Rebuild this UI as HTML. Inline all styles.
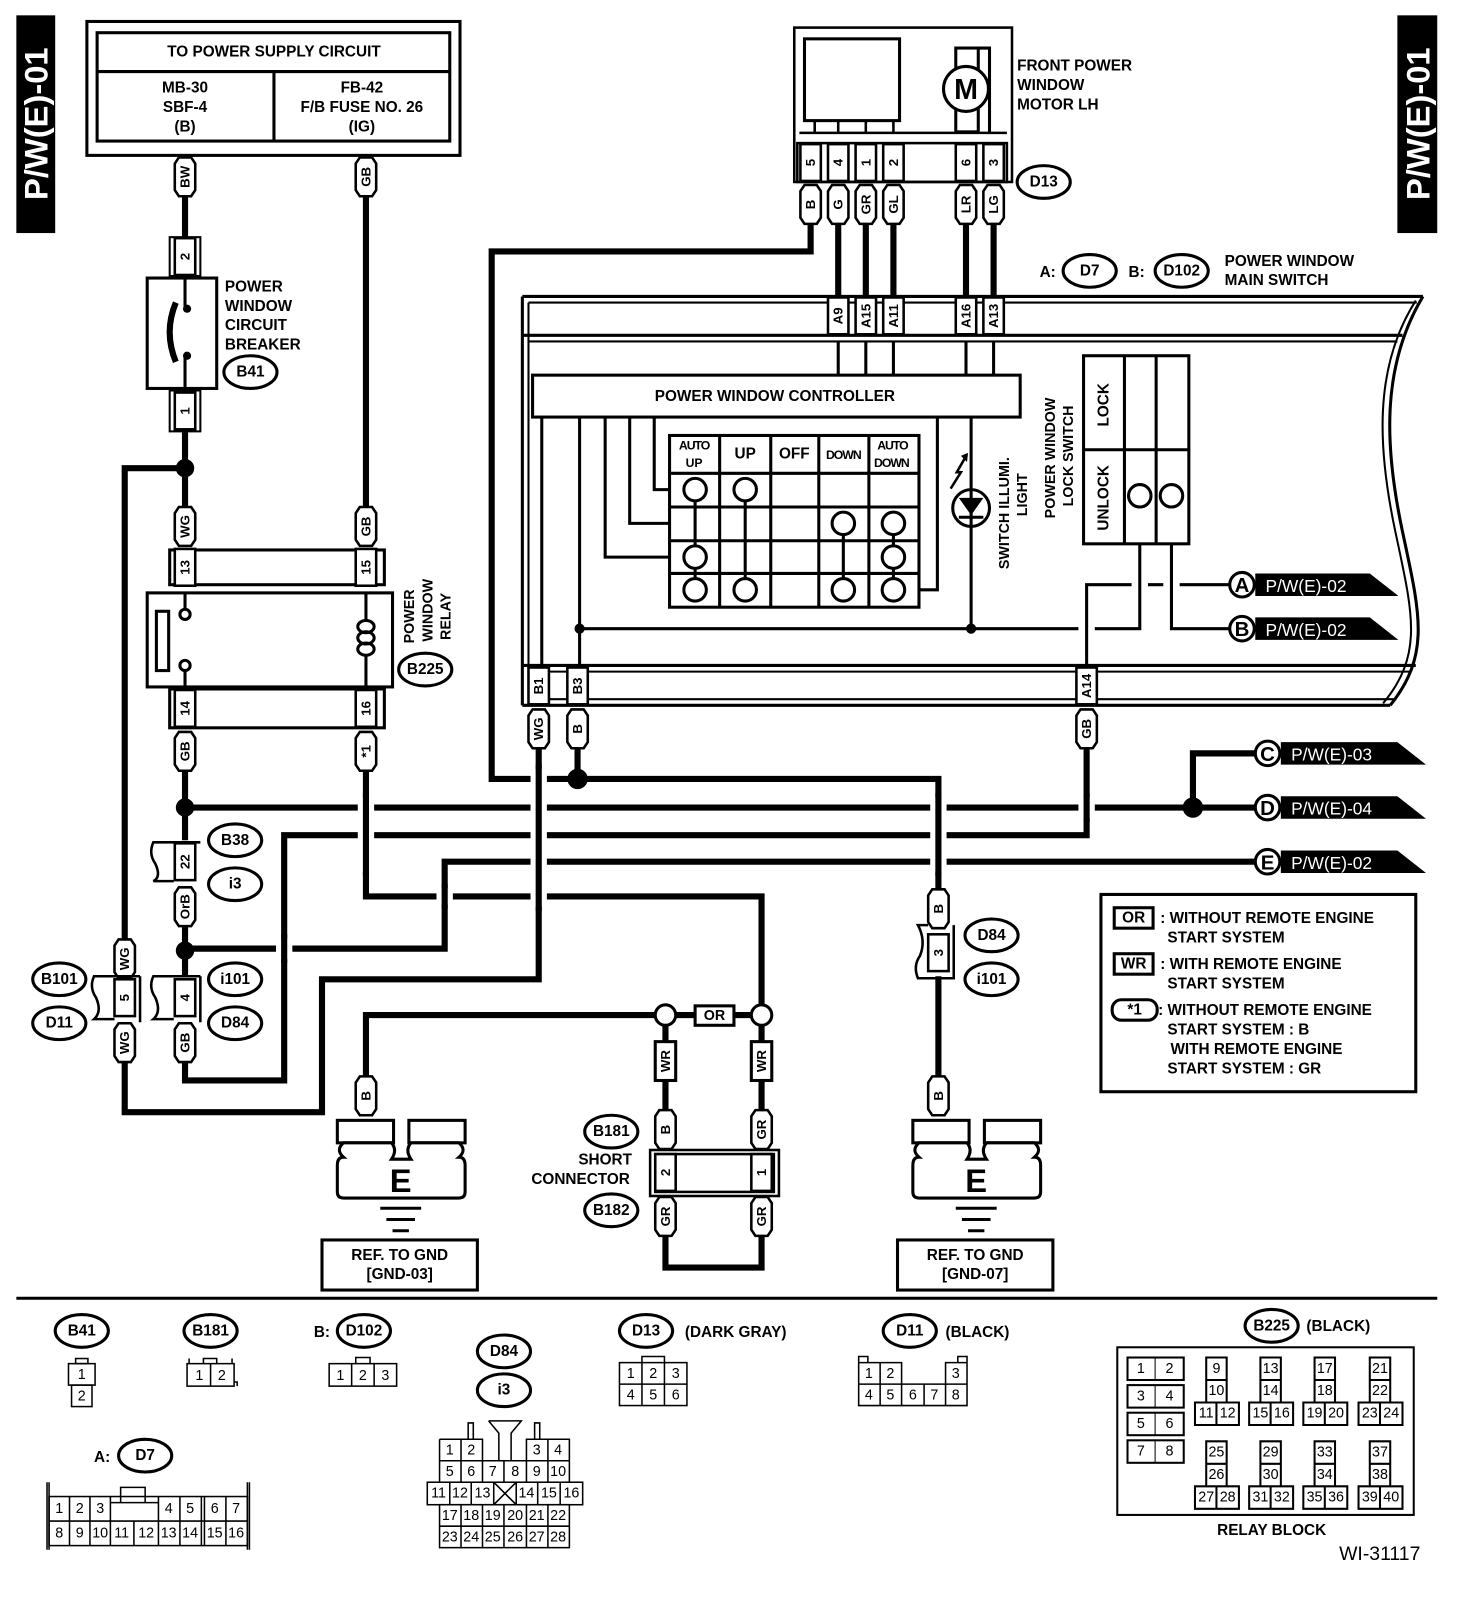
<!DOCTYPE html>
<html><head><meta charset="utf-8"><style>
html,body{margin:0;padding:0;background:#fff}
svg{display:block}
text{font-family:"Liberation Sans",sans-serif;font-weight:bold;fill:#000}
.c{text-anchor:middle;dominant-baseline:central}
.s15{font-size:15px}.s14{font-size:14px}.s13{font-size:13px}.s12{font-size:12px}
.n{font-weight:normal}
</style></head><body>
<svg width="1472" height="1610" viewBox="0 0 1440 1575" xmlns="http://www.w3.org/2000/svg">
<defs>
<path id="pill" d="M-10,-13 L-6,-19 H6 L10,-13 V13 L6,19 H-6 L-10,13Z" fill="#fff" stroke="#000" stroke-width="2.5"/>
<rect id="pin" x="-10" y="-18" width="20" height="36" fill="#fff" stroke="#000" stroke-width="2.5"/>
<ellipse id="el" rx="26" ry="16" fill="#fff" stroke="#000" stroke-width="3"/>
</defs>
<rect width="1440" height="1575" fill="#fff"/>

<!-- side tabs -->
<rect x="16" y="15" width="38" height="213" fill="#000"/>
<text class="c" transform="translate(35,121) rotate(-90)" style="font-size:32px;fill:#fff">P/W(E)-01</text>
<rect x="1367" y="15" width="39" height="213" fill="#000"/>
<text class="c" transform="translate(1387,121) rotate(-90)" style="font-size:32px;fill:#fff">P/W(E)-01</text>

<!-- power supply box -->
<rect x="85" y="21" width="365" height="131" fill="none" stroke="#000" stroke-width="3"/>
<rect x="95" y="32" width="345" height="106" fill="none" stroke="#000" stroke-width="3"/>
<line x1="95" y1="70" x2="440" y2="70" stroke="#000" stroke-width="3"/>
<line x1="268" y1="70" x2="268" y2="138" stroke="#000" stroke-width="3"/>
<text class="c s15" x="268" y="51">TO POWER SUPPLY CIRCUIT</text>
<text class="c s15" x="181" y="86">MB-30</text><text class="c s15" x="181" y="105">SBF-4</text><text class="c s15" x="181" y="124">(B)</text>
<text class="c s15" x="354" y="86">FB-42</text><text class="c s15" x="354" y="105">F/B FUSE NO. 26</text><text class="c s15" x="354" y="124">(IG)</text>

<!-- thick wires -->
<g fill="none" stroke="#000" stroke-width="6">
<path d="M181,192 V232 M181,422 V496 M181,458 H122 V919 M122,1039 V1088 H315 V958 H527 V733"/>
<path d="M358,192 V496"/>
<path d="M181,755 V822 M181,907 V955 M181,1039 V1057 H278 V817 H1063 V733"/>
<path d="M181,790 H1228 M1167,790 V737 H1228"/>
<path d="M181,928 H435 V843 H1228"/>
<path d="M358,755 V877 H745 V983 M641,993 H358 V1053"/>
<path d="M651,1003 V1019 M651,1057 V1086 M745,1003 V1019 M745,1057 V1086 M651,1209 V1240 H745 V1209"/>
<path d="M793,218 V246 H481 V762 H918 V870 M565,733 V762 M918,955 V1053"/>
<path d="M820,218 V290 M847,218 V290 M874,218 V290 M945,218 V290 M972,218 V290"/>
</g>
<!-- crossing halos -->
<g stroke="#fff" stroke-width="16">
<line x1="358" y1="780" x2="358" y2="853"/><line x1="527" y1="752" x2="527" y2="887"/>
<line x1="435" y1="869" x2="435" y2="885"/><line x1="918" y1="780" x2="918" y2="853"/>
<line x1="1063" y1="780" x2="1063" y2="800"/><line x1="278" y1="918" x2="278" y2="938"/>
</g>
<g stroke="#000" stroke-width="6">
<line x1="358" y1="776" x2="358" y2="857"/><line x1="527" y1="748" x2="527" y2="891"/>
<line x1="435" y1="865" x2="435" y2="889"/><line x1="918" y1="776" x2="918" y2="857"/>
<line x1="1063" y1="776" x2="1063" y2="804"/><line x1="278" y1="914" x2="278" y2="942"/>
</g>
<g fill="#000">
<circle cx="181" cy="458" r="9"/><circle cx="181" cy="790" r="9"/><circle cx="181" cy="930" r="9"/>
<circle cx="565" cy="762" r="10"/><circle cx="1167" cy="790" r="10"/>
</g>

<!-- circuit breaker -->
<rect x="166" y="232" width="30" height="38" fill="none" stroke="#000" stroke-width="2"/>
<use href="#pin" x="181" y="251"/><text class="c s13" transform="translate(181,251) rotate(-90)">2</text>
<rect x="144" y="272" width="68" height="108" fill="#fff" stroke="#000" stroke-width="3"/>
<path d="M181,272 V300 M181,350 V380" stroke="#000" stroke-width="3"/>
<circle cx="183" cy="302" r="4"/><circle cx="183" cy="348" r="4"/>
<path d="M172,296 Q160,325 172,354" fill="none" stroke="#000" stroke-width="6"/>
<rect x="166" y="382" width="30" height="40" fill="none" stroke="#000" stroke-width="2"/>
<use href="#pin" x="181" y="402"/><text class="c s13" transform="translate(181,402) rotate(-90)">1</text>
<text class="s15" x="220" y="285">POWER</text><text class="s15" x="220" y="304">WINDOW</text>
<text class="s15" x="220" y="323">CIRCUIT</text><text class="s15" x="220" y="342">BREAKER</text>
<use href="#el" x="245" y="364"/><text class="c s15" x="245" y="364">B41</text>

<!-- relay -->
<rect x="166" y="538" width="210" height="34" fill="none" stroke="#000" stroke-width="3"/>
<use href="#pin" x="181" y="555"/><text class="c s13" transform="translate(181,555) rotate(-90)">13</text>
<use href="#pin" x="358" y="555"/><text class="c s13" transform="translate(358,555) rotate(-90)">15</text>
<rect x="144" y="580" width="240" height="92" fill="#fff" stroke="#000" stroke-width="3"/>
<rect x="153" y="598" width="12" height="58" fill="none" stroke="#000" stroke-width="3"/>
<path d="M181,580 V596 M181,656 V672 M358,580 V606 M358,642 V672" stroke="#000" stroke-width="3"/>
<circle cx="181" cy="601" r="5" fill="#fff" stroke="#000" stroke-width="3"/><circle cx="181" cy="651" r="5" fill="#fff" stroke="#000" stroke-width="3"/>
<g fill="none" stroke="#000" stroke-width="3"><ellipse cx="358" cy="613" rx="8" ry="6"/><ellipse cx="358" cy="624" rx="8" ry="6"/><ellipse cx="358" cy="635" rx="8" ry="6"/></g>
<rect x="166" y="674" width="210" height="38" fill="none" stroke="#000" stroke-width="3"/>
<use href="#pin" x="181" y="693"/><text class="c s13" transform="translate(181,693) rotate(-90)">14</text>
<use href="#pin" x="358" y="693"/><text class="c s13" transform="translate(358,693) rotate(-90)">16</text>
<text class="c s14" transform="translate(401,603) rotate(-90)">POWER</text>
<text class="c s14" transform="translate(419,597) rotate(-90)">WINDOW</text>
<text class="c s14" transform="translate(437,603) rotate(-90)">RELAY</text>
<use href="#el" x="416" y="655"/><text class="c s15" x="416" y="655">B225</text>

<!-- pills -->
<g>
<use href="#pill" x="181" y="173"/><text class="c s13" transform="translate(181,173) rotate(-90)">BW</text>
<use href="#pill" x="358" y="173"/><text class="c s13" transform="translate(358,173) rotate(-90)">GB</text>
<use href="#pill" x="181" y="515"/><text class="c s13" transform="translate(181,515) rotate(-90)">WG</text>
<use href="#pill" x="358" y="515"/><text class="c s13" transform="translate(358,515) rotate(-90)">GB</text>
<use href="#pill" x="181" y="735"/><text class="c s13" transform="translate(181,735) rotate(-90)">GB</text>
<use href="#pill" x="358" y="735"/><text class="c s13" transform="translate(358,735) rotate(-90)">*1</text>
<use href="#pill" x="793" y="200"/><text class="c s13" transform="translate(793,200) rotate(-90)">B</text>
<use href="#pill" x="820" y="200"/><text class="c s13" transform="translate(820,200) rotate(-90)">G</text>
<use href="#pill" x="847" y="200"/><text class="c s13" transform="translate(847,200) rotate(-90)">GR</text>
<use href="#pill" x="874" y="200"/><text class="c s13" transform="translate(874,200) rotate(-90)">GL</text>
<use href="#pill" x="945" y="200"/><text class="c s13" transform="translate(945,200) rotate(-90)">LR</text>
<use href="#pill" x="972" y="200"/><text class="c s13" transform="translate(972,200) rotate(-90)">LG</text>
<use href="#pill" x="527" y="713"/><text class="c s13" transform="translate(527,713) rotate(-90)">WG</text>
<use href="#pill" x="565" y="713"/><text class="c s13" transform="translate(565,713) rotate(-90)">B</text>
<use href="#pill" x="1063" y="713"/><text class="c s13" transform="translate(1063,713) rotate(-90)">GB</text>
<use href="#pill" x="122" y="938"/><text class="c s13" transform="translate(122,938) rotate(-90)">WG</text>
<use href="#pill" x="122" y="1020"/><text class="c s13" transform="translate(122,1020) rotate(-90)">WG</text>
<use href="#pill" x="181" y="887"/><text class="c s13" transform="translate(181,887) rotate(-90)">OrB</text>
<use href="#pill" x="181" y="1020"/><text class="c s13" transform="translate(181,1020) rotate(-90)">GB</text>
<use href="#pill" x="918" y="889"/><text class="c s13" transform="translate(918,889) rotate(-90)">B</text>
<use href="#pill" x="918" y="1072"/><text class="c s13" transform="translate(918,1072) rotate(-90)">B</text>
<use href="#pill" x="358" y="1072"/><text class="c s13" transform="translate(358,1072) rotate(-90)">B</text>
<use href="#pill" x="651" y="1105"/><text class="c s13" transform="translate(651,1105) rotate(-90)">B</text>
<use href="#pill" x="745" y="1105"/><text class="c s13" transform="translate(745,1105) rotate(-90)">GR</text>
<use href="#pill" x="651" y="1190"/><text class="c s13" transform="translate(651,1190) rotate(-90)">GR</text>
<use href="#pill" x="745" y="1190"/><text class="c s13" transform="translate(745,1190) rotate(-90)">GR</text>
<rect x="641" y="1019" width="20" height="38" fill="#fff" stroke="#000" stroke-width="3"/><text class="c s13" transform="translate(651,1038) rotate(-90)">WR</text>
<rect x="735" y="1019" width="20" height="38" fill="#fff" stroke="#000" stroke-width="3"/><text class="c s13" transform="translate(745,1038) rotate(-90)">WR</text>
</g>

<!-- inline connectors -->
<g fill="none" stroke="#000" stroke-width="2.5">
<path d="M196,824 H150 Q145,835 152,845 Q158,858 150,862 H170"/>
<path d="M137,955 H92 Q87,966 94,976 Q100,990 92,997 H112 M137,955 V1000"/>
<path d="M196,955 H150 Q145,966 152,976 Q158,990 150,997 H170 M196,955 V1000"/>
<path d="M933,905 V957 H898 Q893,945 900,935 Q906,920 898,905 H908"/>
</g>
<use href="#pin" x="181" y="843"/><text class="c s13" transform="translate(181,843) rotate(-90)">22</text>
<use href="#pin" x="122" y="976"/><text class="c s13" transform="translate(122,976) rotate(-90)">5</text>
<use href="#pin" x="181" y="976"/><text class="c s13" transform="translate(181,976) rotate(-90)">4</text>
<use href="#pin" x="918" y="932"/><text class="c s13" transform="translate(918,932) rotate(-90)">3</text>
<use href="#el" x="230" y="822"/><text class="c s15" x="230" y="822">B38</text>
<use href="#el" x="230" y="865"/><text class="c s15" x="230" y="865">i3</text>
<use href="#el" x="230" y="958"/><text class="c s15" x="230" y="958">i101</text>
<use href="#el" x="230" y="1001"/><text class="c s15" x="230" y="1001">D84</text>
<use href="#el" x="58" y="958"/><text class="c s15" x="58" y="958">B101</text>
<use href="#el" x="58" y="1001"/><text class="c s15" x="58" y="1001">D11</text>
<use href="#el" x="970" y="915"/><text class="c s15" x="970" y="915">D84</text>
<use href="#el" x="970" y="958"/><text class="c s15" x="970" y="958">i101</text>

<!-- OR junction -->
<circle cx="651" cy="993" r="10" fill="#fff" stroke="#000" stroke-width="3"/>
<circle cx="745" cy="993" r="10" fill="#fff" stroke="#000" stroke-width="3"/>
<line x1="661" y1="993" x2="735" y2="993" stroke="#000" stroke-width="6"/>
<rect x="680" y="984" width="38" height="19" fill="#fff" stroke="#000" stroke-width="3"/>
<text class="c s14" x="699" y="994">OR</text>

<!-- short connector -->
<rect x="636" y="1125" width="126" height="45" fill="none" stroke="#000" stroke-width="2.5"/>
<rect x="641" y="1129" width="116" height="37" fill="none" stroke="#000" stroke-width="2.5"/>
<use href="#pin" x="651" y="1147"/><text class="c s13" transform="translate(651,1147) rotate(-90)">2</text>
<use href="#pin" x="745" y="1147"/><text class="c s13" transform="translate(745,1147) rotate(-90)">1</text>
<use href="#el" x="598" y="1107"/><text class="c s15" x="598" y="1107">B181</text>
<text class="c s15" x="592" y="1135">SHORT</text><text class="c s15" x="568" y="1154">CONNECTOR</text>
<use href="#el" x="598" y="1184"/><text class="c s15" x="598" y="1184">B182</text>

<!-- grounds -->
<g fill="#fff" stroke="#000" stroke-width="3">
<rect x="330" y="1096" width="55" height="22"/><rect x="400" y="1096" width="55" height="22"/>
<path d="M336,1118 Q328,1125 336,1132 Q330,1132 330,1140 V1166 Q330,1172 336,1172 H449 Q455,1172 455,1166 V1140 Q455,1132 449,1132 Q457,1125 449,1118 H402 Q396,1125 402,1134 H383 Q389,1125 383,1118Z"/>
<rect x="893" y="1096" width="55" height="22"/><rect x="963" y="1096" width="55" height="22"/>
<path d="M899,1118 Q891,1125 899,1132 Q893,1132 893,1140 V1166 Q893,1172 899,1172 H1012 Q1018,1172 1018,1166 V1140 Q1018,1132 1012,1132 Q1020,1125 1012,1118 H965 Q959,1125 965,1134 H946 Q952,1125 946,1118Z"/>
<rect x="315" y="1213" width="152" height="49"/><rect x="878" y="1213" width="152" height="49"/>
</g>
<text class="c" x="392" y="1155" style="font-size:32px">E</text>
<text class="c" x="955" y="1155" style="font-size:32px">E</text>
<g stroke="#000" stroke-width="3">
<line x1="372" y1="1182" x2="412" y2="1182"/><line x1="378" y1="1193" x2="406" y2="1193"/><line x1="384" y1="1204" x2="400" y2="1204"/>
<line x1="935" y1="1182" x2="975" y2="1182"/><line x1="941" y1="1193" x2="969" y2="1193"/><line x1="947" y1="1204" x2="963" y2="1204"/>
</g>
<text class="c s15" x="391" y="1228">REF. TO GND</text><text class="c s15" x="391" y="1247">[GND-03]</text>
<text class="c s15" x="954" y="1228">REF. TO GND</text><text class="c s15" x="954" y="1247">[GND-07]</text>

<!-- motor -->
<rect x="777" y="27" width="213" height="151" fill="none" stroke="#000" stroke-width="2.5"/>
<rect x="787" y="38" width="93" height="80" fill="none" stroke="#000" stroke-width="3"/>
<path d="M797,118 V130 M820,118 V130 M847,118 V130 M874,118 V130 M782,130 H985" stroke="#000" stroke-width="2.5"/>
<rect x="935" y="47" width="22" height="82" fill="#fff" stroke="#000" stroke-width="3"/>
<path d="M957,47 H968 V130" fill="none" stroke="#000" stroke-width="3"/>
<circle cx="945" cy="87" r="22" fill="#fff" stroke="#000" stroke-width="3"/>
<text class="c" x="945" y="88" style="font-size:28px">M</text>
<rect x="780" y="140" width="205" height="38" fill="none" stroke="#000" stroke-width="2.5"/>
<use href="#pin" x="793" y="159"/><text class="c s13" transform="translate(793,159) rotate(-90)">5</text>
<use href="#pin" x="820" y="159"/><text class="c s13" transform="translate(820,159) rotate(-90)">4</text>
<use href="#pin" x="847" y="159"/><text class="c s13" transform="translate(847,159) rotate(-90)">1</text>
<use href="#pin" x="874" y="159"/><text class="c s13" transform="translate(874,159) rotate(-90)">2</text>
<use href="#pin" x="945" y="159"/><text class="c s13" transform="translate(945,159) rotate(-90)">6</text>
<use href="#pin" x="972" y="159"/><text class="c s13" transform="translate(972,159) rotate(-90)">3</text>
<use href="#el" x="1021" y="178"/><text class="c s15" x="1021" y="178">D13</text>
<text class="s15" x="995" y="69">FRONT POWER</text><text class="s15" x="995" y="88">WINDOW</text><text class="s15" x="995" y="107">MOTOR LH</text>

<text class="s15" x="1017" y="271">A:</text>
<use href="#el" x="1066" y="265"/><text class="c s15" x="1066" y="265">D7</text>
<text class="s15" x="1104" y="271">B:</text>
<use href="#el" x="1156" y="265"/><text class="c s15" x="1156" y="265">D102</text>
<text class="s15" x="1198" y="260">POWER WINDOW</text><text class="s15" x="1198" y="279">MAIN SWITCH</text>

<!-- main switch outline -->
<g fill="none" stroke="#000">
<path d="M511,290 H1392 M511,328 H1372 M511,651 H1385 M511,690 H1360" stroke-width="3"/>
<path d="M517,296 H1386 M517,334 H1367 M517,657 H1380 M517,684 H1366" stroke-width="2"/>
<path d="M511,290 V690" stroke-width="3"/><path d="M517,296 V684" stroke-width="2"/>
<path d="M1392,290 C1350,360 1355,440 1372,520 S1400,640 1360,690" stroke-width="3"/>
<path d="M1385,294 C1343,360 1348,440 1365,520 S1393,640 1353,688" stroke-width="2"/>
</g>
<g>
<use href="#pin" x="820" y="309"/><text class="c s13" transform="translate(820,309) rotate(-90)">A9</text>
<use href="#pin" x="847" y="309"/><text class="c s13" transform="translate(847,309) rotate(-90)">A15</text>
<use href="#pin" x="874" y="309"/><text class="c s13" transform="translate(874,309) rotate(-90)">A11</text>
<use href="#pin" x="945" y="309"/><text class="c s13" transform="translate(945,309) rotate(-90)">A16</text>
<use href="#pin" x="972" y="309"/><text class="c s13" transform="translate(972,309) rotate(-90)">A13</text>
<use href="#pin" x="527" y="671"/><text class="c s13" transform="translate(527,671) rotate(-90)">B1</text>
<use href="#pin" x="565" y="671"/><text class="c s13" transform="translate(565,671) rotate(-90)">B3</text>
<use href="#pin" x="1063" y="671"/><text class="c s13" transform="translate(1063,671) rotate(-90)">A14</text>
</g>

<!-- internal thin wiring -->
<g fill="none" stroke="#000" stroke-width="3">
<path d="M820,334 V367 M847,334 V367 M874,334 V367 M945,334 V367 M972,334 V367"/>
<path d="M530,408 V651 M567,408 V651"/>
<path d="M640,408 V479 H655 M616,408 V512 H655 M592,408 V545 H655 M917,408 V577 H899"/>
<path d="M950,408 V615"/>
<path d="M567,615 H1055 M1071,615 H1115 V532 M1146,532 V615 H1203"/>
<path d="M1063,651 V572 H1107 M1123,572 H1138 M1154,572 H1203"/>
</g>
<circle cx="567" cy="615" r="5"/><circle cx="950" cy="615" r="5"/>
<rect x="521" y="367" width="477" height="41" fill="#fff" stroke="#000" stroke-width="3"/>
<text class="c s15" x="758" y="388">POWER WINDOW CONTROLLER</text>

<!-- switch table -->
<g fill="none" stroke="#000" stroke-width="3">
<rect x="655" y="426" width="244" height="168"/>
<path d="M704,426 V594 M754,426 V594 M801,426 V594 M850,426 V594 M655,463 H899 M655,496 H899 M655,529 H899 M655,561 H899"/>
<path d="M680,479 V577 M729,479 V577 M825,512 V577 M874,512 V577"/>
</g>
<g fill="#fff" stroke="#000" stroke-width="3">
<circle cx="680" cy="479" r="11"/><circle cx="680" cy="545" r="11"/><circle cx="680" cy="577" r="11"/>
<circle cx="729" cy="479" r="11"/><circle cx="729" cy="577" r="11"/>
<circle cx="825" cy="512" r="11"/><circle cx="825" cy="577" r="11"/>
<circle cx="874" cy="512" r="11"/><circle cx="874" cy="545" r="11"/><circle cx="874" cy="577" r="11"/>
</g>
<text class="c s12" x="679" y="436" style="letter-spacing:-1px">AUTO</text><text class="c s12" x="679" y="453">UP</text>
<text class="c s15" x="729" y="444">UP</text><text class="c s15" x="777" y="444">OFF</text>
<text class="c s12" x="825" y="445" style="letter-spacing:-1px">DOWN</text>
<text class="c s12" x="873" y="436" style="letter-spacing:-1px">AUTO</text><text class="c s12" x="872" y="453" style="letter-spacing:-1px">DOWN</text>

<!-- LED -->
<circle cx="950" cy="497" r="18" fill="#fff" stroke="#000" stroke-width="3"/>
<path d="M938,487 H962 L950,504Z"/><line x1="938" y1="506" x2="962" y2="506" stroke="#000" stroke-width="3"/>
<line x1="950" y1="479" x2="950" y2="515" stroke="#000" stroke-width="3"/>
<path d="M930,478 L940,462 L936,462 L944,448" fill="none" stroke="#000" stroke-width="2.5"/><path d="M940,446 L947,443 L946,452Z"/>
<text class="c s14" transform="translate(983,502) rotate(-90)">SWITCH ILLUMI.</text>
<text class="c s14" transform="translate(1001,484) rotate(-90)">LIGHT</text>
<text class="c s14" transform="translate(1028,448) rotate(-90)">POWER WINDOW</text>
<text class="c s14" transform="translate(1046,446) rotate(-90)">LOCK SWITCH</text>

<!-- lock switch -->
<g fill="none" stroke="#000" stroke-width="3">
<rect x="1060" y="348" width="103" height="184"/>
<path d="M1100,348 V532 M1131,348 V532 M1060,440 H1163"/>
</g>
<circle cx="1115" cy="485" r="11" fill="#fff" stroke="#000" stroke-width="3"/>
<circle cx="1146" cy="485" r="11" fill="#fff" stroke="#000" stroke-width="3"/>
<text class="c s15" transform="translate(1080,396) rotate(-90)">LOCK</text>
<text class="c s15" transform="translate(1080,487) rotate(-90)">UNLOCK</text>

<!-- off-page connectors -->
<g>
<path d="M1228,561 H1340 L1368,583 H1228Z"/><circle cx="1215" cy="572" r="12" fill="#fff" stroke="#000" stroke-width="3"/>
<text class="c" x="1215" y="573" style="font-size:20px">A</text><text class="n" x="1238" y="579" style="font-size:17px;fill:#fff">P/W(E)-02</text>
<path d="M1228,604 H1340 L1368,626 H1228Z"/><circle cx="1215" cy="615" r="12" fill="#fff" stroke="#000" stroke-width="3"/>
<text class="c" x="1215" y="616" style="font-size:20px">B</text><text class="n" x="1238" y="622" style="font-size:17px;fill:#fff">P/W(E)-02</text>
<path d="M1253,726 H1367 L1395,748 H1253Z"/><circle cx="1240" cy="737" r="12" fill="#fff" stroke="#000" stroke-width="3"/>
<text class="c" x="1240" y="738" style="font-size:20px">C</text><text class="n" x="1263" y="744" style="font-size:17px;fill:#fff">P/W(E)-03</text>
<path d="M1253,779 H1367 L1395,801 H1253Z"/><circle cx="1240" cy="790" r="12" fill="#fff" stroke="#000" stroke-width="3"/>
<text class="c" x="1240" y="791" style="font-size:20px">D</text><text class="n" x="1263" y="797" style="font-size:17px;fill:#fff">P/W(E)-04</text>
<path d="M1253,832 H1367 L1395,854 H1253Z"/><circle cx="1240" cy="843" r="12" fill="#fff" stroke="#000" stroke-width="3"/>
<text class="c" x="1240" y="844" style="font-size:20px">E</text><text class="n" x="1263" y="850" style="font-size:17px;fill:#fff">P/W(E)-02</text>
</g>

<!-- legend -->
<rect x="1077" y="875" width="308" height="193" fill="none" stroke="#000" stroke-width="3"/>
<rect x="1090" y="888" width="38" height="20" fill="none" stroke="#000" stroke-width="3"/><text class="c s15" x="1109" y="898">OR</text>
<text class="s15" x="1135" y="903">: WITHOUT REMOTE ENGINE</text><text class="s15" x="1142" y="922">START SYSTEM</text>
<rect x="1090" y="933" width="38" height="20" fill="none" stroke="#000" stroke-width="3"/><text class="c s15" x="1109" y="943">WR</text>
<text class="s15" x="1135" y="948">: WITH REMOTE ENGINE</text><text class="s15" x="1142" y="967">START SYSTEM</text>
<rect x="1088" y="978" width="44" height="20" rx="9" fill="none" stroke="#000" stroke-width="3"/><text class="c s15" x="1110" y="988">*1</text>
<text class="s15" x="1133" y="993">: WITHOUT REMOTE ENGINE</text><text class="s15" x="1142" y="1012">START SYSTEM   : B</text>
<text class="s15" x="1145" y="1031">WITH REMOTE ENGINE</text><text class="s15" x="1142" y="1050">START SYSTEM   : GR</text>

<!-- divider -->
<line x1="16" y1="1270" x2="1406" y2="1270" stroke="#000" stroke-width="3"/>

<!-- bottom connector views -->
<use href="#el" x="80" y="1302"/><text class="c s15" x="80" y="1302">B41</text>
<use href="#el" x="206" y="1302"/><text class="c s15" x="206" y="1302">B181</text>
<text class="s15" x="307" y="1308">B:</text><use href="#el" x="356" y="1302"/><text class="c s15" x="356" y="1302">D102</text>
<use href="#el" x="493" y="1322"/><text class="c s15" x="493" y="1322">D84</text>
<use href="#el" x="493" y="1360"/><text class="c s15" x="493" y="1360">i3</text>
<text class="s15" x="92" y="1430">A:</text><use href="#el" x="142" y="1424"/><text class="c s15" x="142" y="1424">D7</text>
<use href="#el" x="632" y="1302"/><text class="c s15" x="632" y="1302">D13</text><text class="s15" x="670" y="1308">(DARK GRAY)</text>
<use href="#el" x="890" y="1302"/><text class="c s15" x="890" y="1302">D11</text><text class="s15" x="925" y="1308">(BLACK)</text>
<use href="#el" x="1244" y="1297"/><text class="c s15" x="1244" y="1297">B225</text><text class="s15" x="1278" y="1302">(BLACK)</text>

<g fill="none" stroke="#000" stroke-width="1.5">
<rect x="74" y="1329" width="12" height="5"/><rect x="67" y="1334" width="26" height="21"/><rect x="70" y="1355" width="20" height="21"/>
<rect x="183" y="1334" width="46" height="22"/><path d="M206,1334 V1356 M199,1334 V1329 H212 V1334 M185,1334 V1329 M227,1334 V1329 M229,1352 H232 V1356"/>
<rect x="322" y="1334" width="66" height="22"/><path d="M344,1334 V1356 M366,1334 V1356 M348,1334 V1328 H362 V1334"/>
<rect x="606" y="1333" width="66" height="42"/><path d="M628,1333 V1375 M650,1333 V1375 M606,1354 H672 M628,1333 V1327 H650 V1333"/>
<path d="M840,1333 H882 V1354 M840,1333 V1375 H946 V1333 H925 V1354 M840,1354 H946 M861,1333 V1375 M882,1354 V1375 M904,1354 V1375 M925,1354 V1375 M840,1333 V1327 H849 V1333 M937,1333 V1327 H946 V1333"/>
<path d="M46,1450 V1516 M48,1450 V1516 M242,1450 V1516 M244,1450 V1516"/>
<rect x="48" y="1464" width="194" height="48"/>
<path d="M48,1488 H242 M68,1464 V1512 M88,1464 V1512 M108,1464 V1512 M131,1488 V1512 M155,1464 V1512 M176,1464 V1512 M197,1464 V1512 M200,1464 V1512 M221,1464 V1512 M108,1470 H155 M118,1470 V1455 H142 V1470"/>
<path d="M430,1408 H472 V1429 M515,1429 V1408 H557 V1450 M430,1408 V1450 M430,1429 H557 M451,1408 V1450 M493,1429 V1450 M515,1429 V1450 M536,1408 V1450 M472,1429 V1450"/>
<rect x="418" y="1450" width="152" height="22"/>
<path d="M440,1450 V1472 M461,1450 V1472 M483,1450 V1472 M505,1450 V1472 M526,1450 V1472 M548,1450 V1472 M483,1450 L505,1472 M505,1450 L483,1472"/>
<rect x="430" y="1472" width="127" height="42"/>
<path d="M430,1493 H557 M451,1472 V1514 M472,1472 V1514 M493,1472 V1514 M515,1472 V1514 M536,1472 V1514"/>
<path d="M478,1390 H510 L500,1402 V1429 M488,1429 V1402 L478,1390 M458,1408 V1392 H463 V1408 M523,1408 V1392 H528 V1408"/>
<rect x="1093" y="1318" width="290" height="164" stroke-width="2"/>
</g>
<g fill="none" stroke="#000" stroke-width="2">
<rect x="1103" y="1328" width="55" height="22"/><rect x="1103" y="1355" width="55" height="22"/><rect x="1103" y="1382" width="55" height="22"/><rect x="1103" y="1409" width="55" height="22"/>
<path d="M1130,1328 V1350 M1130,1355 V1377 M1130,1382 V1404 M1130,1409 V1431" stroke-width="1"/>
<path d="M1180,1328 H1200 V1372 H1212 V1394 H1169 V1372 H1180 Z M1180,1350 H1200 M1169,1372 H1212 M1190,1372 V1394"/>
<path d="M1233,1328 H1253 V1372 H1265 V1394 H1222 V1372 H1233 Z M1233,1350 H1253 M1222,1372 H1265 M1243,1372 V1394"/>
<path d="M1286,1328 H1306 V1372 H1318 V1394 H1275 V1372 H1286 Z M1286,1350 H1306 M1275,1372 H1318 M1296,1372 V1394"/>
<path d="M1340,1328 H1360 V1372 H1372 V1394 H1329 V1372 H1340 Z M1340,1350 H1360 M1329,1372 H1372 M1350,1372 V1394"/>
<path d="M1180,1410 H1200 V1454 H1212 V1476 H1169 V1454 H1180 Z M1180,1432 H1200 M1169,1454 H1212 M1190,1454 V1476"/>
<path d="M1233,1410 H1253 V1454 H1265 V1476 H1222 V1454 H1233 Z M1233,1432 H1253 M1222,1454 H1265 M1243,1454 V1476"/>
<path d="M1286,1410 H1306 V1454 H1318 V1476 H1275 V1454 H1286 Z M1286,1432 H1306 M1275,1454 H1318 M1296,1454 V1476"/>
<path d="M1340,1410 H1360 V1454 H1372 V1476 H1329 V1454 H1340 Z M1340,1432 H1360 M1329,1454 H1372 M1350,1454 V1476"/>
</g>
<g class="n" style="font-size:14px">
<text class="c n" x="80" y="1345">1</text><text class="c n" x="80" y="1366">2</text>
<text class="c n" x="195" y="1346">1</text><text class="c n" x="217" y="1346">2</text>
<text class="c n" x="333" y="1346">1</text><text class="c n" x="355" y="1346">2</text><text class="c n" x="377" y="1346">3</text>
<text class="c n" x="617" y="1344">1</text><text class="c n" x="639" y="1344">2</text><text class="c n" x="661" y="1344">3</text>
<text class="c n" x="617" y="1365">4</text><text class="c n" x="639" y="1365">5</text><text class="c n" x="661" y="1365">6</text>
<text class="c n" x="850" y="1344">1</text><text class="c n" x="871" y="1344">2</text><text class="c n" x="935" y="1344">3</text>
<text class="c n" x="850" y="1365">4</text><text class="c n" x="871" y="1365">5</text><text class="c n" x="893" y="1365">6</text><text class="c n" x="914" y="1365">7</text><text class="c n" x="935" y="1365">8</text>
<text class="c n" x="58" y="1476">1</text><text class="c n" x="78" y="1476">2</text><text class="c n" x="98" y="1476">3</text><text class="c n" x="165" y="1476">4</text><text class="c n" x="186" y="1476">5</text><text class="c n" x="210" y="1476">6</text><text class="c n" x="231" y="1476">7</text>
<text class="c n" x="58" y="1500">8</text><text class="c n" x="78" y="1500">9</text><text class="c n" x="98" y="1500">10</text><text class="c n" x="119" y="1500">11</text><text class="c n" x="143" y="1500">12</text><text class="c n" x="165" y="1500">13</text><text class="c n" x="186" y="1500">14</text><text class="c n" x="210" y="1500">15</text><text class="c n" x="231" y="1500">16</text>
<text class="c n" x="440" y="1419">1</text><text class="c n" x="461" y="1419">2</text><text class="c n" x="525" y="1419">3</text><text class="c n" x="546" y="1419">4</text>
<text class="c n" x="440" y="1440">5</text><text class="c n" x="461" y="1440">6</text><text class="c n" x="482" y="1440">7</text><text class="c n" x="504" y="1440">8</text><text class="c n" x="525" y="1440">9</text><text class="c n" x="546" y="1440">10</text>
<text class="c n" x="429" y="1461">11</text><text class="c n" x="450" y="1461">12</text><text class="c n" x="472" y="1461">13</text><text class="c n" x="515" y="1461">14</text><text class="c n" x="537" y="1461">15</text><text class="c n" x="559" y="1461">16</text>
<text class="c n" x="440" y="1483">17</text><text class="c n" x="461" y="1483">18</text><text class="c n" x="482" y="1483">19</text><text class="c n" x="504" y="1483">20</text><text class="c n" x="525" y="1483">21</text><text class="c n" x="546" y="1483">22</text>
<text class="c n" x="440" y="1504">23</text><text class="c n" x="461" y="1504">24</text><text class="c n" x="482" y="1504">25</text><text class="c n" x="504" y="1504">26</text><text class="c n" x="525" y="1504">27</text><text class="c n" x="546" y="1504">28</text>
<text class="c n" x="1116" y="1339">1</text><text class="c n" x="1144" y="1339">2</text><text class="c n" x="1116" y="1366">3</text><text class="c n" x="1144" y="1366">4</text>
<text class="c n" x="1116" y="1393">5</text><text class="c n" x="1144" y="1393">6</text><text class="c n" x="1116" y="1420">7</text><text class="c n" x="1144" y="1420">8</text>
<text class="c n" x="1190" y="1339">9</text><text class="c n" x="1190" y="1361">10</text><text class="c n" x="1180" y="1383">11</text><text class="c n" x="1201" y="1383">12</text>
<text class="c n" x="1243" y="1339">13</text><text class="c n" x="1243" y="1361">14</text><text class="c n" x="1233" y="1383">15</text><text class="c n" x="1254" y="1383">16</text>
<text class="c n" x="1296" y="1339">17</text><text class="c n" x="1296" y="1361">18</text><text class="c n" x="1286" y="1383">19</text><text class="c n" x="1307" y="1383">20</text>
<text class="c n" x="1350" y="1339">21</text><text class="c n" x="1350" y="1361">22</text><text class="c n" x="1340" y="1383">23</text><text class="c n" x="1361" y="1383">24</text>
<text class="c n" x="1190" y="1421">25</text><text class="c n" x="1190" y="1443">26</text><text class="c n" x="1180" y="1465">27</text><text class="c n" x="1201" y="1465">28</text>
<text class="c n" x="1243" y="1421">29</text><text class="c n" x="1243" y="1443">30</text><text class="c n" x="1233" y="1465">31</text><text class="c n" x="1254" y="1465">32</text>
<text class="c n" x="1296" y="1421">33</text><text class="c n" x="1296" y="1443">34</text><text class="c n" x="1286" y="1465">35</text><text class="c n" x="1307" y="1465">36</text>
<text class="c n" x="1350" y="1421">37</text><text class="c n" x="1350" y="1443">38</text><text class="c n" x="1340" y="1465">39</text><text class="c n" x="1361" y="1465">40</text>
</g>
<text class="c s15" x="1244" y="1497">RELAY BLOCK</text>
<text class="n" x="1310" y="1526" style="font-size:19px">WI-31117</text>
</svg>
</body></html>
